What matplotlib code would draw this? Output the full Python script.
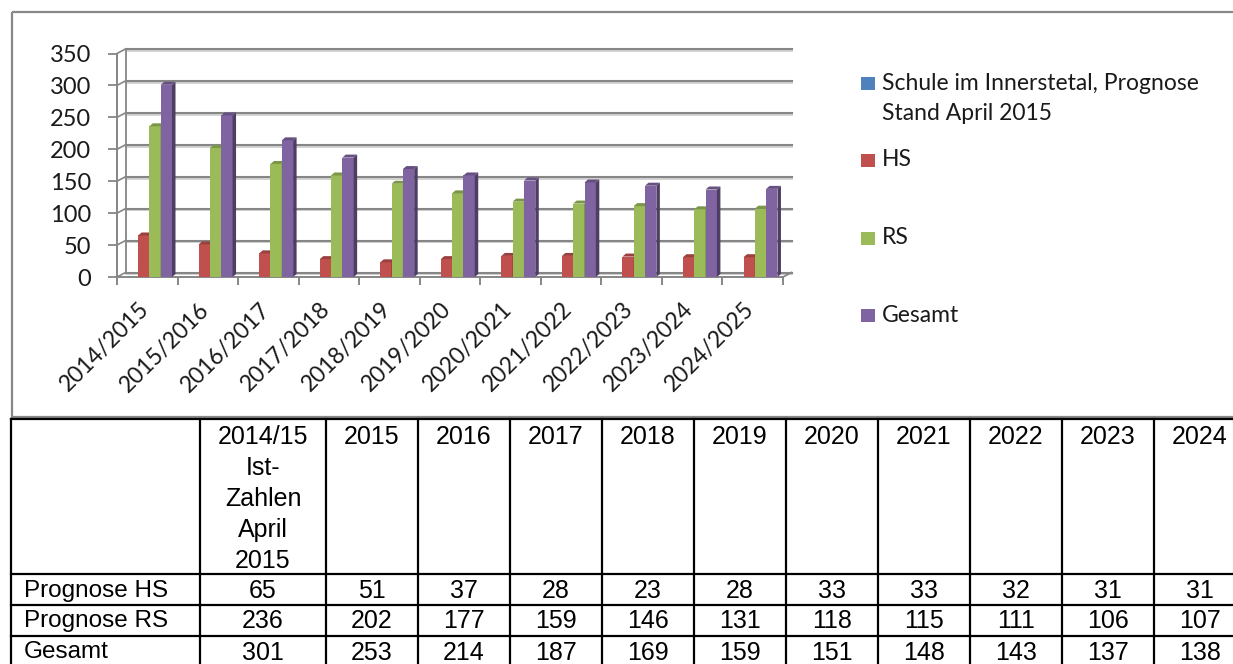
import numpy as np
import matplotlib
matplotlib.use('Agg')
import matplotlib.pyplot as plt
from matplotlib.patches import Polygon, Rectangle
import matplotlib.colors as mcolors

plt.rcParams['font.family'] = ['Lato', 'DejaVu Sans']

# ── Data ────────────────────────────────────────────────────
categories = ['2014/2015', '2015/2016', '2016/2017', '2017/2018', '2018/2019',
              '2019/2020', '2020/2021', '2021/2022', '2022/2023', '2023/2024',
              '2024/2025']
hs = [65, 51, 37, 28, 23, 28, 33, 33, 32, 31, 31]
rs = [236, 202, 177, 159, 146, 131, 118, 115, 111, 106, 107]
gesamt = [301, 253, 214, 187, 169, 159, 151, 148, 143, 137, 138]
yticks = [0, 50, 100, 150, 200, 250, 300, 350]

legend_labels = ['Schule im Innerstetal, Prognose\nStand April 2015', 'HS', 'RS', 'Gesamt']
colors = ['#4F81BD', '#C0504D', '#9BBB59', '#8064A2']

table_header = ['', '2014/15\nIst-\nZahlen\nApril\n2015', '2015', '2016', '2017', '2018',
                '2019', '2020', '2021', '2022', '2023', '2024']
table_row_labels = ['Prognose HS', 'Prognose RS', 'Gesamt']
table_values = [hs, rs, gesamt]

# ── Figure (pixel based layout) ────────────────────────────
W, H = 1233, 664
fig = plt.figure(figsize=(W / 100, H / 100), dpi=100)
fig.patch.set_facecolor('white')

ov = fig.add_axes([0, 0, 1, 1])
ov.set_xlim(0, W)
ov.set_ylim(H, 0)
ov.axis('off')

# chart frame
ov.add_patch(Rectangle((12, 12), 1240, 405, fill=False, ec='#888888', lw=1.6))

# ── Chart axes ─────────────────────────────────────────────
x0, x1, ytop, ybot = 117, 783, 53.5, 277
ax = fig.add_axes([x0 / W, (H - ybot) / H, (x1 - x0) / W, (ybot - ytop) / H])
ax.set_xlim(-0.5, 10.5)
ax.set_ylim(0, 350)
ax.patch.set_alpha(0)
px_x = (x1 - x0) / 11.0
px_y = (ybot - ytop) / 350.0

grid_c = '#868686'
wdx, wdy = 8.5 / px_x, 4.5 / px_y
for v in yticks:
    ax.plot([-0.5 + wdx, 10.5 + wdx], [v + wdy - 1.8 / px_y] * 2, color='#cfcfcf',
            lw=1.3, clip_on=False, zorder=1)
    ax.plot([-0.5 + wdx, 10.5 + wdx], [v + wdy] * 2, color=grid_c, lw=1.5,
            clip_on=False, zorder=1)
    ax.plot([-0.5, -0.5 + wdx], [v, v + wdy], color=grid_c, lw=1.2,
            clip_on=False, zorder=1)
ax.plot([-0.5 + wdx] * 2, [wdy, 350 + wdy], color=grid_c, lw=1.3, clip_on=False, zorder=1)
ax.plot([10.5, 10.5 + wdx], [0, wdy], color=grid_c, lw=1.3, clip_on=False, zorder=1)

# bars with simple 3D faces
xs = np.arange(len(categories))
bw = 0.187
offsets = [-0.28, -0.093, 0.093, 0.28]
shift = 0.035
ddx, ddy = 3.5 / px_x, 3.0 / px_y


def shade(c, f):
    r, g, b = mcolors.to_rgb(c)
    return (r * f, g * f, b * f)


for j, vals in zip([1, 2, 3], [hs, rs, gesamt]):
    c = colors[j]
    xc = xs + offsets[j] + shift
    ax.bar(xc, vals, width=bw, color=c, clip_on=False, zorder=3 + j * 0.1)
    for xi, v in zip(xc, vals):
        xr = xi + bw / 2
        xl = xi - bw / 2
        ax.add_patch(Polygon([(xr, 0), (xr + ddx, ddy), (xr + ddx, v + ddy), (xr, v)],
                             closed=True, fc=shade(c, 0.62), ec='none',
                             clip_on=False, zorder=3 + j * 0.1))
        ax.add_patch(Polygon([(xl, v), (xl + ddx, v + ddy), (xr + ddx, v + ddy), (xr, v)],
                             closed=True, fc=shade(c, 0.8), ec='none',
                             clip_on=False, zorder=3 + j * 0.1))

for s in ['top', 'right']:
    ax.spines[s].set_visible(False)
for s in ['left', 'bottom']:
    ax.spines[s].set_color(grid_c)
    ax.spines[s].set_linewidth(1.4)

ax.set_yticks(yticks)
ax.tick_params(axis='y', length=6.5, width=1.3, color=grid_c, pad=12,
               labelsize=17, labelcolor='#1a1a1a')
ax.set_xticks(np.arange(-0.5, 11, 1))
ax.set_xticklabels([])
ax.tick_params(axis='x', length=6, width=1.4, color=grid_c)

for i, cat in enumerate(categories):
    ax.annotate(cat, xy=(i, 0), xytext=(-2, -29), textcoords='offset pixels',
                rotation=45, ha='right', va='center', rotation_mode='anchor',
                fontsize=16.5, color='#1a1a1a', annotation_clip=False)

# ── Legend ─────────────────────────────────────────────────
legend_y = [83.5, 160, 238, 315]
for lab, c, ly in zip(legend_labels, colors, legend_y):
    ov.add_patch(Rectangle((861, ly - 6.5), 14, 13, fc=c, ec='none'))
    for k, line in enumerate(lab.split('\n')):
        ov.text(882, ly + k * 29.5, line, fontsize=16.5, va='center', ha='left',
                color='#1a1a1a')

# ── Table ──────────────────────────────────────────────────
tfont = 'Liberation Sans'
tsize = 18
col_edges = [11, 200, 326] + [326 + 92 * k for k in range(1, 11)]
row_edges = [419, 574, 605, 636, 667]
for ry in row_edges:
    ov.plot([col_edges[0], col_edges[-1]], [ry, ry], color='black', lw=1.6,
            solid_capstyle='projecting')
for cx in col_edges:
    ov.plot([cx, cx], [row_edges[0], row_edges[-1]], color='black', lw=1.6,
            solid_capstyle='projecting')

for c, head in enumerate(table_header):
    cxm = (col_edges[c] + col_edges[c + 1]) / 2
    for k, line in enumerate(head.split('\n')):
        if line:
            ov.text(cxm, 437 + k * 31, line, fontsize=tsize, family=tfont,
                    ha='center', va='center', color='black')

for r, (lab, vals) in enumerate(zip(table_row_labels, table_values)):
    ym = (row_edges[r + 1] + row_edges[r + 2]) / 2 + 1
    ov.text(24, ym, lab, fontsize=17.5, family=tfont, ha='left', va='center',
            color='black')
    for c, v in enumerate(vals):
        cxm = (col_edges[c + 1] + col_edges[c + 2]) / 2
        ov.text(cxm, ym, str(v), fontsize=tsize, family=tfont, ha='center',
                va='center', color='black')

fig.savefig('out.png', dpi=100)
plt.close(fig)
